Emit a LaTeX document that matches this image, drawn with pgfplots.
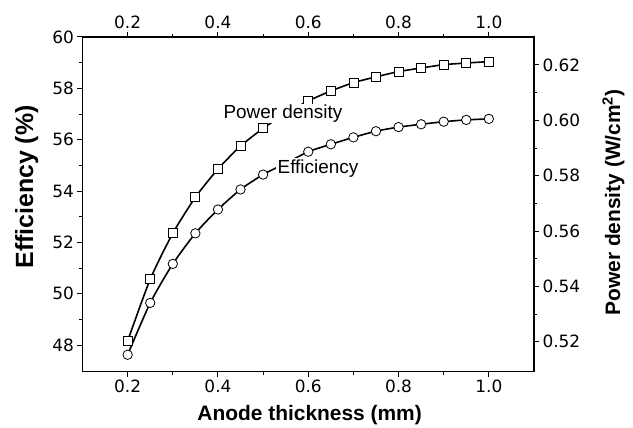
\documentclass[border=0pt]{standalone}
\usepackage{fontspec}
\setmainfont{Liberation Sans}
\newfontfamily\tickfont{DejaVu Sans}
\usepackage{pgfplots}
\pgfplotsset{compat=1.18}

% Efficiency (%) against anode thickness (mm)
\pgfplotstableread{
x    eff
0.20 47.62
0.25 49.64
0.30 51.16
0.35 52.35
0.40 53.28
0.45 54.06
0.50 54.64
0.55 55.08
0.60 55.53
0.65 55.82
0.70 56.09
0.75 56.33
0.80 56.49
0.85 56.60
0.90 56.70
0.95 56.77
1.00 56.81
}\efftable

% Power density (W/cm^2) against anode thickness (mm)
\pgfplotstableread{
x    pd
0.20 0.5203
0.25 0.5426
0.30 0.5592
0.35 0.5722
0.40 0.5824
0.45 0.5907
0.50 0.5971
0.55 0.6025
0.60 0.6070
0.65 0.6106
0.70 0.6136
0.75 0.6157
0.80 0.6176
0.85 0.6189
0.90 0.6201
0.95 0.6207
1.00 0.6212
}\pdtable

\pgfplotsset{
  common/.style={
    scale only axis,
    width=451.5bp, height=334.7bp,
    xmin=0.1, xmax=1.1,
    xtick={0.2,0.4,0.6,0.8,1.0},
    minor x tick num=1,
    minor y tick num=1,
    tick align=outside,
    major tick length=5bp,
    minor tick length=3bp,
    axis line style={line width=1.2bp},
    every tick/.style={black, line width=1bp},
    /pgf/number format/assume math mode=true,
    tick label style={font=\fontsize{17}{17}\selectfont\tickfont},
    label style={font=\fontsize{21}{21}\selectfont\bfseries},
    xticklabel style={/pgf/number format/.cd, fixed, fixed zerofill, precision=1},
  },
  curve/.style={black, line width=1.6bp, smooth, tension=0.4,
    mark options={fill=white, line width=0.8bp, solid}},
}

\begin{document}
\begin{tikzpicture}
\begin{axis}[common, name=ax1,
  ymin=46.96, ymax=60,
  ytick={48,50,52,54,56,58,60},
  xtick pos=lower, xticklabel pos=lower,
  ytick pos=left, yticklabel pos=left,
  xlabel={Anode thickness (mm)},
  xlabel style={at={(axis description cs:0.503,-0.147)}, anchor=base},
  ylabel={Efficiency (\%)},
  ylabel style={at={(axis description cs:-0.1096,0.552)}, anchor=base,
    font=\fontsize{25}{25}\selectfont\bfseries},
]
\addplot[curve, mark=*, mark size=4.7bp] table[x=x, y=eff] {\efftable};
\coordinate (efflab) at (axis cs:0.6216,54.70);
\end{axis}

\begin{axis}[common,
  ymin=0.5092, ymax=0.6301,
  ytick={0.52,0.54,0.56,0.58,0.60,0.62},
  yticklabel style={/pgf/number format/.cd, fixed, fixed zerofill, precision=2},
  xtick pos=upper, xticklabel pos=upper,
  ytick pos=right, yticklabel pos=right,
  ylabel={Power density (W/cm\textsuperscript{2})},
  ylabel style={at={(axis description cs:1.1905,0.5055)}, anchor=base},
]
\addplot[curve, mark=square*, mark size=4.5bp] table[x=x, y=pd] {\pdtable};
\coordinate (pdlab) at (axis cs:0.544,0.6008);
\end{axis}

% curve labels on white patches, set over the curves and their marks
\node[fill=white, inner sep=0.5bp, anchor=base,
  font=\fontsize{19}{19}\selectfont] at (pdlab) {Power density};
\node[fill=white, inner sep=1.5bp, anchor=base,
  font=\fontsize{19}{19}\selectfont] at (efflab) {Efficiency};

\pgfresetboundingbox
\path[use as bounding box]
  ([shift={(-82.5bp,-56.3bp)}]ax1.south west) rectangle
  ([shift={(99bp,37bp)}]ax1.north east);
\end{tikzpicture}
\end{document}
